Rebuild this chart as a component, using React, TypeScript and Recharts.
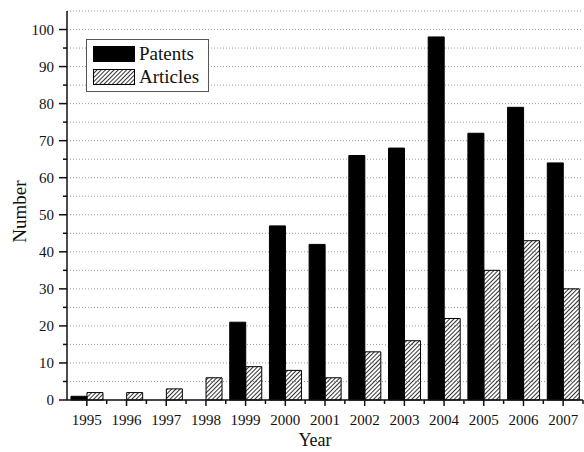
import { BarChart, Bar, XAxis, YAxis, CartesianGrid, Legend, Label } from 'recharts';

const years = ['1995', '1996', '1997', '1998', '1999', '2000', '2001', '2002', '2003', '2004', '2005', '2006', '2007'];
const patents = [1, 0, 0, 0, 21, 47, 42, 66, 68, 98, 72, 79, 64];
const articles = [2, 2, 3, 6, 9, 8, 6, 13, 16, 22, 35, 43, 30];
const yTicks = [0, 5, 10, 15, 20, 25, 30, 35, 40, 45, 50, 55, 60, 65, 70, 75, 80, 85, 90, 95, 100];

const data = years.map((year, i) => ({ year, patents: patents[i], articles: articles[i] }));

const FONT = '"Liberation Serif", "Times New Roman", serif';
const INK = '#111';

function YearTick(props: any) {
    const { x, y, payload, width } = props;
    const half = width / years.length / 2;
    return (
        <g>
            <line x1={x} y1={y} x2={x} y2={y + 6} stroke={INK} strokeWidth={1.5} />
            <line x1={x + half} y1={y} x2={x + half} y2={y + 4} stroke={INK} strokeWidth={1.5} />
            <text x={x} y={y + 25} textAnchor="middle" fontFamily={FONT} fontSize={15} fill={INK}>
                {payload.value}
            </text>
        </g>
    );
}

function NumberTick(props: any) {
    const { x, y, payload } = props;
    const major = payload.value % 10 === 0;
    return (
        <g>
            <line x1={x - (major ? 8 : 4)} y1={y} x2={x} y2={y} stroke={INK} strokeWidth={1.5} />
            {major && (
                <text x={x - 13} y={y} dy="0.35em" textAnchor="end" fontFamily={FONT} fontSize={15} fill={INK}>
                    {payload.value}
                </text>
            )}
        </g>
    );
}

function LegendBox() {
    const items = [
        { name: 'Patents', fill: '#000' },
        { name: 'Articles', fill: 'url(#hatch)' },
    ];
    return (
        <div
            style={{
                width: 123,
                boxSizing: 'border-box',
                border: '1px solid #555',
                background: '#fff',
                padding: '6px 6px',
            }}
        >
            {items.map((item, i) => (
                <div key={item.name} style={{ display: 'flex', alignItems: 'center', height: 16, marginTop: i ? 7 : 0 }}>
                    <svg width={42} height={16} style={{ display: 'block' }}>
                        <rect x={0.5} y={0.5} width={41} height={15} fill={item.fill} stroke="#000" />
                    </svg>
                    <span style={{ marginLeft: 4, fontFamily: FONT, fontSize: 19, color: INK, lineHeight: '16px' }}>
                        {item.name}
                    </span>
                </div>
            ))}
        </div>
    );
}

export default function App() {
    return (
        <div style={{ position: 'absolute', left: 0, top: 0, width: 584, height: 452, background: '#fff' }}>
            <svg width={0} height={0} style={{ position: 'absolute' }}>
                <defs>
                    <pattern id="hatch" patternUnits="userSpaceOnUse" width={3} height={6} patternTransform="rotate(45)">
                        <line x1={0.5} y1={0} x2={0.5} y2={6} stroke="#333" strokeWidth={1} />
                    </pattern>
                </defs>
            </svg>
            <BarChart
                width={584}
                height={452}
                data={data}
                margin={{ top: 11, right: 1, bottom: 0, left: 0 }}
                barCategoryGap="10%"
                barGap={0}
            >
                <CartesianGrid vertical={false} stroke="#9a9a9a" strokeDasharray="1 2" />
                <XAxis
                    dataKey="year"
                    height={52}
                    tickSize={0}
                    tickMargin={0}
                    tick={<YearTick />}
                    interval={0}
                    axisLine={{ stroke: INK, strokeWidth: 1.5 }}
                >
                    <Label
                        content={(p: any) => {
                            const vb = p.viewBox || { x: 67, y: 400, width: 516, height: 52 };
                            return (
                                <text x={vb.x + vb.width / 2 - 10} y={vb.y + 46} textAnchor="middle" fontFamily={FONT} fontSize={18} fill={INK}>
                                    Year
                                </text>
                            );
                        }}
                    />
                </XAxis>
                <XAxis
                    xAxisId="top"
                    dataKey="year"
                    orientation="top"
                    height={0}
                    tick={false}
                    tickLine={false}
                    axisLine={{ stroke: '#222', strokeWidth: 1.5 }}
                />
                <YAxis
                    width={67}
                    domain={[0, 105]}
                    ticks={yTicks}
                    interval={0}
                    tickSize={0}
                    tickMargin={0}
                    tick={<NumberTick />}
                    axisLine={{ stroke: INK, strokeWidth: 1.5 }}
                >
                    <Label
                        content={(p: any) => {
                            const vb = p.viewBox || { x: 0, y: 11, width: 67, height: 389 };
                            const cx = vb.x + 19;
                            const cy = vb.y + vb.height / 2 + 6;
                            return (
                                <text
                                    x={cx}
                                    y={cy}
                                    dy="0.35em"
                                    textAnchor="middle"
                                    transform={`rotate(-90, ${cx}, ${cy})`}
                                    fontFamily={FONT}
                                    fontSize={19}
                                    fill={INK}
                                >
                                    Number
                                </text>
                            );
                        }}
                    />
                </YAxis>
                <YAxis
                    yAxisId="right"
                    orientation="right"
                    width={0}
                    domain={[0, 105]}
                    tick={false}
                    tickLine={false}
                    axisLine={{ stroke: '#222', strokeWidth: 1.5 }}
                />
                <Legend
                    layout="horizontal"
                    verticalAlign="middle"
                    align="center"
                    wrapperStyle={{ left: 86, top: 39, width: 123 }}
                    content={<LegendBox />}
                />
                <Bar dataKey="patents" name="Patents" fill="#000" stroke="#000" strokeWidth={1} isAnimationActive={false} />
                <Bar dataKey="articles" name="Articles" fill="url(#hatch)" stroke="#000" strokeWidth={1} isAnimationActive={false} />
            </BarChart>
        </div>
    );
}
